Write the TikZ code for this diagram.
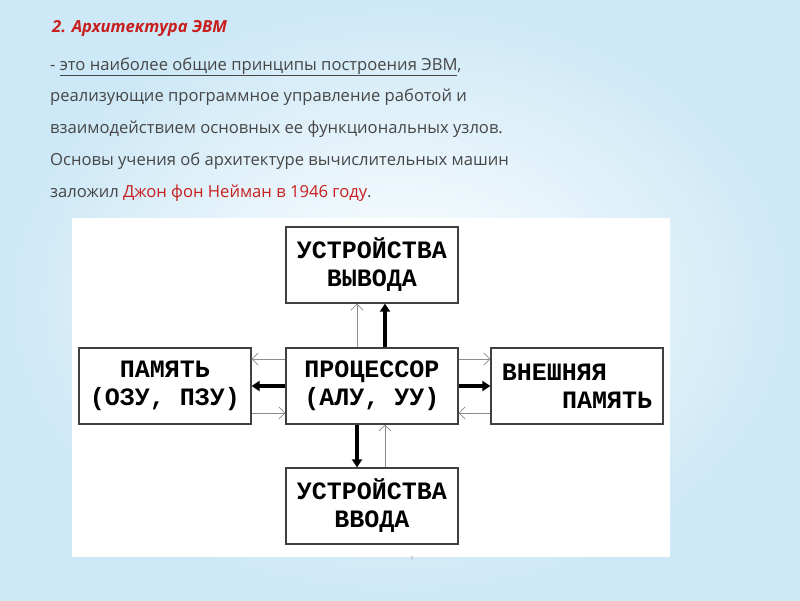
\documentclass[tikz,border=0pt]{standalone}
\usepackage{fontspec}
\setmainfont{Open Sans}
\newfontfamily\boxfont{Liberation Mono}
\usetikzlibrary{arrows.meta}
\definecolor{redtxt}{RGB}{200,30,30}
\definecolor{graytxt}{RGB}{70,70,70}
\definecolor{bgblue}{RGB}{205,232,246}
\begin{document}
\begin{tikzpicture}[x=1pt,y=-1pt,
    txt/.style={anchor=base west,inner sep=0,text=graytxt,font=\fontsize{16.6}{20}\selectfont},
    unit/.style={draw=black!75,line width=1.2pt,fill=white,minimum width=172,minimum height=76,
        align=center,font=\boxfont\bfseries\fontsize{25}{28}\selectfont,inner sep=0},
    thin/.style={draw=black!45,line width=0.8pt,-{Straight Barb[length=6pt,width=12pt]}},
    thick/.style={draw=black,line width=3.5pt,-{Triangle[length=8pt,width=10pt]}}]
    \useasboundingbox (0,0) rectangle (800,600);
    \shade[inner color=white,outer color=bgblue] (0,0) rectangle (800,600);
    \fill[white] (72,218) rectangle (670,557);
    % heading and text
    \node[txt,text=redtxt,font=\bfseries\itshape\fontsize{16.6}{20}\selectfont] (Title) at (52,32) {2. Архитектура ЭВМ};
    \node[txt] (Line1) at (50,70) {-\ \underline{это наиболее общие принципы построения ЭВМ},};
    \node[txt] (Line2) at (50,101) {реализующие программное управление работой и};
    \node[txt] (Line3) at (50,133) {взаимодействием основных ее функциональных узлов.};
    \node[txt] (Line4) at (50,165) {Основы учения об архитектуре вычислительных машин};
    \node[txt] (Line5) at (50,197) {заложил \textcolor{redtxt}{Джон фон Нейман в 1946 году}.};
    % blocks
    \node[unit] (Out) at (372,265) {УСТРОЙСТВА\\ВЫВОДА};
    \node[unit] (Cpu) at (372,386) {ПРОЦЕССОР\\(АЛУ, УУ)};
    \node[unit] (Mem) at (165,386) {ПАМЯТЬ\\(ОЗУ, ПЗУ)};
    \node[unit,align=left] (Ext) at (577,386) {ВНЕШНЯЯ\\\ \ \ \ ПАМЯТЬ};
    \node[unit] (In) at (372,506) {УСТРОЙСТВА\\ВВОДА};
    % links
    \draw[thin] ([xshift=-15]Cpu.north) -- ([xshift=-15]Out.south);
    \draw[thick] ([xshift=13]Cpu.north) -- ([xshift=13]Out.south);
    \draw[thin] ([yshift=27]Cpu.west) -- ([yshift=27]Mem.east);
    \draw[thick] (Cpu.west) -- (Mem.east);
    \draw[thin] ([yshift=-27]Mem.east) -- ([yshift=-27]Cpu.west);
    \draw[thin] ([yshift=27]Cpu.east) -- ([yshift=27]Ext.west);
    \draw[thick] (Cpu.east) -- (Ext.west);
    \draw[thin] ([yshift=-27]Ext.west) -- ([yshift=-27]Cpu.east);
    \draw[thick] ([xshift=-15]Cpu.south) -- ([xshift=-15]In.north);
    \draw[thin] ([xshift=13]In.north) -- ([xshift=13]Cpu.south);
    \node[font=\tiny,text=black!50] (Page) at (412,559) {7};
\end{tikzpicture}
\end{document}
